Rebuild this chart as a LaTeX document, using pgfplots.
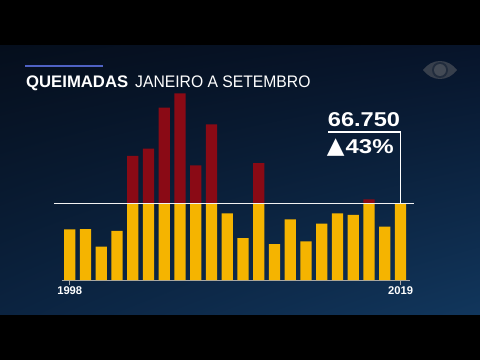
\documentclass[border=0pt]{standalone}
\usepackage{pgfplots}
\pgfplotsset{compat=1.18}
\usetikzlibrary{shadings}
\usepackage{fontspec}
\setmainfont{Liberation Sans}
\newfontfamily\dejavu{DejaVu Sans}
\definecolor{barY}{HTML}{F5B400}
\definecolor{barR}{HTML}{8A0A15}
\definecolor{bgTL}{HTML}{050E1C}
\definecolor{bgTR}{HTML}{07142A}
\definecolor{bgBL}{HTML}{0B2340}
\definecolor{bgBR}{HTML}{11365C}
\definecolor{accent}{HTML}{4F62C4}
\begin{document}
\begin{tikzpicture}[x=1pt,y=1pt]
\useasboundingbox (0,0) rectangle (480,360);
\fill[black] (0,0) rectangle (480,360);
\shade[upper left=bgTL, upper right=bgTR, lower left=bgBL, lower right=bgBR] (0,46) rectangle (480,315);
% title
\fill[accent] (25,293.2) rectangle (103,295.4);
\node[anchor=base west, inner sep=0, text=white, font=\bfseries\fontsize{16.7}{18}\selectfont] at (26,273) {QUEIMADAS};
\node[anchor=base west, inner sep=0, text=white, font=\fontsize{16.7}{18}\selectfont] at (135,273) {\scalebox{0.94}[1]{JANEIRO A SETEMBRO}};
% logo
\fill[gray!40!bgTR] (423,290) .. controls (432,302) and (448,302) .. (457,290) .. controls (448,278) and (432,278) .. (423,290) -- cycle;
\fill[gray!22!bgTR] (440,290) circle (8);
\fill[gray!50!bgTR] (440,290) circle (6);
\begin{axis}[
  at={(61.7pt,80pt)}, anchor=south west,
  scale only axis, width=348.3pt, height=196.1pt,
  xmin=1997.49, xmax=2019.6, ymin=0, ymax=170000,
  ybar stacked, bar width=11.3pt,
  axis x line=bottom, axis y line=none,
  axis line style={-, draw=gray!70!white, line width=0.8pt},
  xtick={1998,2019}, xticklabels={1998,2019},
  tick align=outside, major tick length=5pt,
  tick style={draw=gray!70!white, line width=0.8pt},
  xticklabel style={text=white, font=\bfseries\fontsize{11.2}{12}\selectfont, inner sep=1.5pt},
  ytick=\empty,
]
\addplot[fill=barY, draw=none] coordinates {
(1998,43950) (1999,44000) (2000,28900) (2001,42500) (2002,66750) (2003,66750)
(2004,66750) (2005,66750) (2006,66750) (2007,66750) (2008,57800) (2009,36400)
(2010,66750) (2011,31200) (2012,52600) (2013,33500) (2014,48800) (2015,57800)
(2016,56400) (2017,66750) (2018,46200) (2019,66750)};
\addplot[fill=barR, draw=none] coordinates {
(1998,0) (1999,0) (2000,0) (2001,0) (2002,40750) (2003,47050)
(2004,82650) (2005,95050) (2006,32650) (2007,68250) (2008,0) (2009,0)
(2010,34650) (2011,0) (2012,0) (2013,0) (2014,0) (2015,0)
(2016,0) (2017,3250) (2018,0) (2019,0)};
\end{axis}
\begin{axis}[
  at={(61.7pt,80pt)}, anchor=south west,
  scale only axis, width=348.3pt, height=196.1pt,
  xmin=1997.49, xmax=2019.6, ymin=0, ymax=170000,
  axis lines=none, clip=false,
]
\addplot[white!90!gray, line width=1pt] coordinates {(1997.0,66750) (2019.86,66750)};
\addplot[white, line width=1.2pt] coordinates {(2014.40,128300) (2019,128300) (2019,66750)};
\end{axis}
\node[anchor=base west, inner sep=0, text=white, font=\bfseries\fontsize{20}{22}\selectfont] at (327.7,234) {\scalebox{1.18}[1]{66.750}};
\node[anchor=base west, inner sep=0, text=white, font=\bfseries\fontsize{20}{22}\selectfont] at (326.7,206.7) {{\dejavu\fontsize{23}{24}\selectfont ▲}\hspace{1pt}\scalebox{1.2}[1]{43\%}};
\end{tikzpicture}
\end{document}
